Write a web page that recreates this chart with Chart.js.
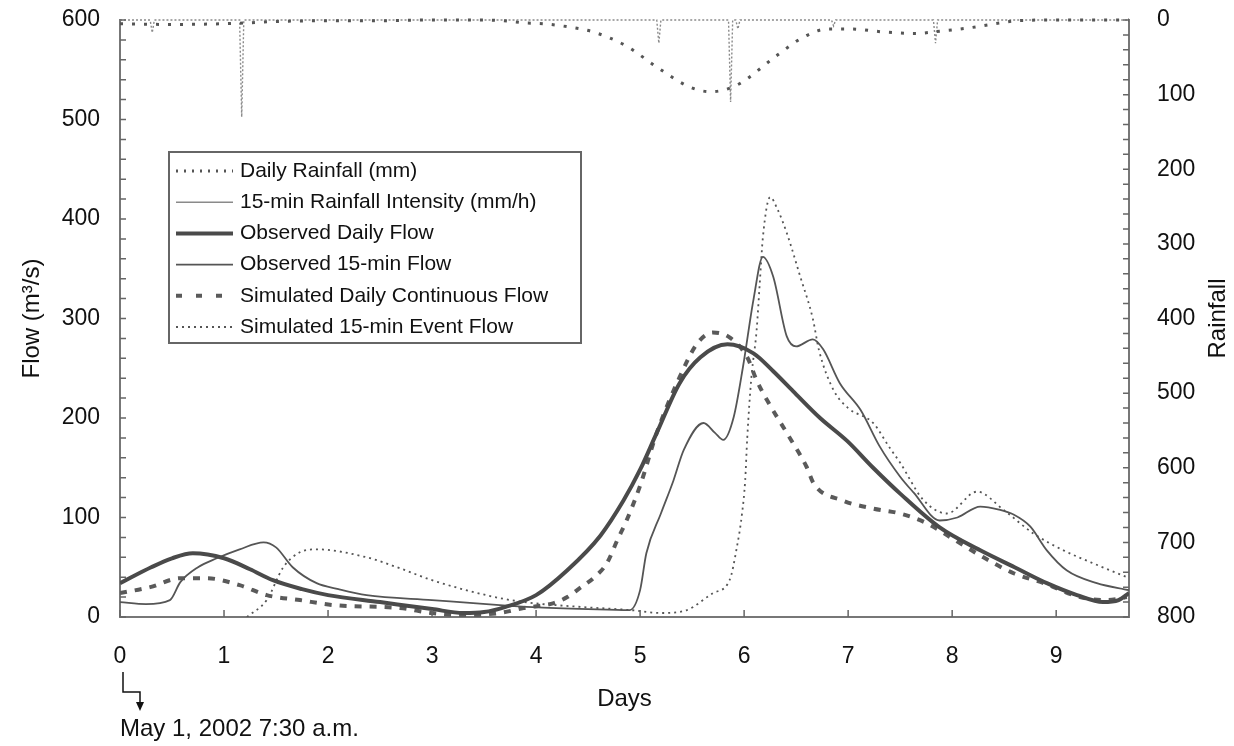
<!DOCTYPE html>
<html>
<head>
<meta charset="utf-8">
<script src="https://cdn.jsdelivr.net/npm/chart.js@4.4.0/dist/chart.umd.min.js"></script>
<style>
    body { margin: 0; background: #fff; }
    #wrap { width: 1234px; height: 746px; }
</style>
</head>
<body>
<div id="wrap"><canvas id="chart-flow" width="1234" height="746"></canvas></div>
<script>
// days counted from May 1, 2002 7:30 a.m.
var rainDailyDays = [0, 0.5, 1.0, 1.2, 1.5, 2.0, 2.5, 3.0, 3.5, 3.68, 3.9, 4.07, 4.3, 4.55, 4.87, 5.16, 5.48, 5.67, 5.8, 5.96, 6.32, 6.57, 6.8, 7.02, 7.34, 7.66, 7.82, 8.14, 8.46, 8.62, 9.0, 9.7];
var rainDailyMm = [5, 6, 5, 4, 2, 1, 1, 0, 0, 1, 4, 5, 9, 16, 35, 63, 90, 96, 94, 85, 47, 23, 12, 12, 16, 18, 16, 11, 4, 1, 0, 0];

var rain15Days = [0, 0.29, 0.31, 0.33, 1.15, 1.17, 1.19, 5.16, 5.18, 5.2, 5.85, 5.87, 5.89, 5.92, 5.94, 5.96, 6.84, 6.86, 6.88, 7.82, 7.84, 7.86, 9.7];
var rain15Int = [0, 0, 17, 0, 0, 130, 0, 0, 31, 0, 0, 110, 0, 0, 12, 0, 0, 8, 0, 0, 31, 0, 0];

var obsDailyDays = [0, 0.3, 0.5, 0.7, 1.0, 1.25, 1.47, 1.75, 2.0, 2.5, 3.0, 3.3, 3.5, 3.7, 4.0, 4.3, 4.62, 4.84, 5.0, 5.16, 5.38, 5.58, 5.84, 6.09, 6.28, 6.47, 6.73, 6.99, 7.24, 7.5, 7.88, 8.27, 8.6, 8.91, 9.2, 9.45, 9.6, 9.7];
var obsDailyFlow = [34, 50, 59, 64, 59, 48, 37, 28, 22, 15, 8, 4, 5, 10, 22, 47, 82, 117, 148, 185, 235, 261, 274, 265, 247, 227, 200, 177, 150, 124, 90, 67, 50, 34, 22, 15, 17, 24];

var obs15Days = [0, 0.25, 0.48, 0.58, 0.75, 0.93, 1.15, 1.38, 1.5, 1.66, 1.89, 2.1, 2.37, 3.0, 3.65, 3.97, 4.5, 4.9, 5.0, 5.06, 5.2, 5.32, 5.42, 5.61, 5.72, 5.8, 5.9, 5.99, 6.09, 6.18, 6.28, 6.41, 6.5, 6.66, 6.76, 6.92, 7.12, 7.3, 7.5, 7.63, 7.88, 8.05, 8.27, 8.45, 8.59, 8.75, 8.91, 9.1, 9.39, 9.7];
var obs15Flow = [15, 13, 17, 35, 50, 59, 68, 75, 70, 50, 34, 28, 22, 17, 12, 10, 8, 7, 27, 64, 104, 137, 168, 195, 185, 178, 201, 252, 319, 362, 342, 282, 272, 279, 269, 235, 208, 172, 141, 125, 97, 100, 111, 108, 103, 91, 67, 47, 34, 27];

var simDailyDays = [0, 0.29, 0.58, 0.83, 1.15, 1.41, 1.73, 2.05, 2.69, 3.0, 3.3, 3.65, 3.88, 4.17, 4.3, 4.42, 4.55, 4.68, 4.78, 4.87, 5.0, 5.16, 5.38, 5.55, 5.7, 5.86, 6.03, 6.12, 6.22, 6.41, 6.6, 6.67, 6.95, 7.24, 7.5, 7.76, 8.0, 8.3, 8.59, 8.88, 9.23, 9.49, 9.68];
var simDailyFlow = [24, 30, 39, 39, 32, 22, 17, 12, 9, 4, 2, 4, 9, 14, 20, 29, 39, 54, 77, 97, 132, 185, 241, 275, 286, 281, 261, 238, 218, 185, 151, 134, 117, 109, 104, 94, 79, 60, 44, 34, 20, 17, 20];

var sim15Days = [1.22, 1.41, 1.57, 1.73, 1.89, 2.37, 2.69, 3.0, 3.65, 3.97, 4.45, 4.9, 5.2, 5.45, 5.7, 5.86, 5.93, 5.98, 6.01, 6.03, 6.07, 6.12, 6.15, 6.18, 6.25, 6.32, 6.41, 6.54, 6.66, 6.72, 6.86, 7.0, 7.24, 7.4, 7.5, 7.72, 7.95, 8.24, 8.49, 8.78, 9.07, 9.4, 9.68];
var sim15Flow = [0, 17, 50, 65, 68, 60, 49, 37, 19, 14, 10, 7, 4, 7, 24, 37, 70, 104, 137, 180, 241, 288, 335, 381, 422, 410, 386, 342, 300, 268, 228, 210, 195, 170, 155, 118, 104, 126, 108, 84, 67, 52, 40];

var fontFamily = "'Liberation Sans', Arial, sans-serif";
var textColor = '#111';

function pts(xs, ys) {
    return xs.map(function (x, i) { return { x: x, y: ys[i] }; });
}

// tick padding would otherwise push the plot top down
function noVertPad(s) {
    s.paddingTop = 0;
}

// inward tick marks like the original plot
var innerTicks = {
    id: 'innerTicks',
    afterDatasetsDraw: function (chart) {
        var ctx = chart.ctx, a = chart.chartArea, s, v, p;
        ctx.save();
        ctx.strokeStyle = '#666';
        ctx.lineWidth = 1.5;
        ctx.beginPath();
        s = chart.scales.x;
        for (v = 0; v <= 9; v++) {
            p = s.getPixelForValue(v);
            ctx.moveTo(p, a.bottom); ctx.lineTo(p, a.bottom - 7);
        }
        s = chart.scales.y;
        for (v = 0; v <= 600; v += 20) {
            p = s.getPixelForValue(v);
            ctx.moveTo(a.left, p); ctx.lineTo(a.left + 6, p);
        }
        s = chart.scales.y2;
        for (v = 0; v <= 800; v += 20) {
            p = s.getPixelForValue(v);
            ctx.moveTo(a.right, p); ctx.lineTo(a.right - 6, p);
        }
        ctx.stroke();
        ctx.restore();
    }
};

var legendBox = {
    id: 'legendBox',
    afterDraw: function (chart) {
        var ctx = chart.ctx, a = chart.chartArea;
        var x0 = a.left + 49, y0 = a.top + 132, w = 412, h = 191;
        ctx.save();
        ctx.fillStyle = '#fff';
        ctx.fillRect(x0, y0, w, h);
        ctx.strokeStyle = '#666';
        ctx.lineWidth = 2;
        ctx.strokeRect(x0, y0, w, h);
        ctx.font = '21px ' + fontFamily;
        ctx.textBaseline = 'middle';
        ctx.fillStyle = textColor;
        chart.data.datasets.forEach(function (ds, i) {
            var y = y0 + 19 + i * 31.2;
            ctx.beginPath();
            ctx.setLineDash(ds.legendDash || ds.borderDash || []);
            ctx.lineWidth = ds.borderWidth;
            ctx.strokeStyle = ds.borderColor;
            ctx.lineCap = ds.borderCapStyle || 'butt';
            ctx.moveTo(x0 + 7, y);
            ctx.lineTo(x0 + 64, y);
            ctx.stroke();
            ctx.setLineDash([]);
            ctx.fillText(ds.label, x0 + 71, y);
        });
        ctx.restore();
    }
};

// right axis title (reads bottom to top) and the start date note
var extraText = {
    id: 'extraText',
    afterDraw: function (chart) {
        var ctx = chart.ctx, a = chart.chartArea;
        var x0 = chart.scales.x.getPixelForValue(0);
        ctx.save();
        ctx.fillStyle = textColor;
        ctx.font = '24px ' + fontFamily;
        ctx.textAlign = 'center';
        ctx.textBaseline = 'middle';
        ctx.translate(a.right + 89, (a.top + a.bottom) / 2);
        ctx.rotate(-Math.PI / 2);
        ctx.fillText('Rainfall', 0, 0);
        ctx.restore();

        ctx.save();
        ctx.strokeStyle = '#111';
        ctx.fillStyle = '#111';
        ctx.lineWidth = 1.5;
        ctx.beginPath();
        ctx.moveTo(x0 + 3, 672);
        ctx.lineTo(x0 + 3, 692);
        ctx.lineTo(x0 + 20, 692);
        ctx.lineTo(x0 + 20, 704);
        ctx.stroke();
        ctx.beginPath();
        ctx.moveTo(x0 + 16, 702);
        ctx.lineTo(x0 + 24, 702);
        ctx.lineTo(x0 + 20, 711);
        ctx.closePath();
        ctx.fill();
        ctx.font = '24px ' + fontFamily;
        ctx.textAlign = 'left';
        ctx.textBaseline = 'middle';
        ctx.fillText('May 1, 2002 7:30 a.m.', x0, 729);
        ctx.restore();
    }
};

var ctx1 = document.getElementById('chart-flow').getContext('2d');

new Chart(ctx1, {
    type: 'scatter',
    data: {
        datasets: [{
            label: 'Daily Rainfall (mm)',
            data: pts(rainDailyDays, rainDailyMm),
            yAxisID: 'y2',
            showLine: true,
            borderColor: '#555',
            borderWidth: 3,
            borderDash: [3, 9],
            legendDash: [2, 6],
            cubicInterpolationMode: 'monotone',
            pointRadius: 0,
            clip: 4
        }, {
            label: '15-min Rainfall Intensity (mm/h)',
            data: pts(rain15Days, rain15Int),
            yAxisID: 'y2',
            showLine: true,
            borderColor: '#8a8a8a',
            borderWidth: 1.4,
            borderDash: [2, 2],
            legendDash: [],
            tension: 0,
            pointRadius: 0,
            clip: 4
        }, {
            label: 'Observed Daily Flow',
            data: pts(obsDailyDays, obsDailyFlow),
            yAxisID: 'y',
            showLine: true,
            borderColor: '#4a4a4a',
            borderWidth: 4,
            cubicInterpolationMode: 'monotone',
            pointRadius: 0
        }, {
            label: 'Observed 15-min Flow',
            data: pts(obs15Days, obs15Flow),
            yAxisID: 'y',
            showLine: true,
            borderColor: '#555',
            borderWidth: 1.8,
            cubicInterpolationMode: 'monotone',
            pointRadius: 0
        }, {
            label: 'Simulated Daily Continuous Flow',
            data: pts(simDailyDays, simDailyFlow),
            yAxisID: 'y',
            showLine: true,
            borderColor: '#5a5a5a',
            borderWidth: 4,
            borderDash: [7, 8],
            legendDash: [6, 14],
            cubicInterpolationMode: 'monotone',
            pointRadius: 0
        }, {
            label: 'Simulated 15-min Event Flow',
            data: pts(sim15Days, sim15Flow),
            yAxisID: 'y',
            showLine: true,
            borderColor: '#555',
            borderWidth: 1.8,
            borderDash: [2, 4],
            cubicInterpolationMode: 'monotone',
            pointRadius: 0
        }]
    },
    options: {
        responsive: false,
        animation: false,
        devicePixelRatio: 1,
        layout: { padding: { top: 20, right: 0, bottom: 0, left: 0 } },
        plugins: {
            legend: { display: false },
            tooltip: { enabled: false }
        },
        scales: {
            x: {
                type: 'linear',
                position: 'bottom',
                min: 0,
                max: 9.7,
                afterFit: function (s) { s.height = 129; },
                grid: { display: false, drawTicks: false },
                border: { display: true, color: '#777', width: 2 },
                ticks: {
                    stepSize: 1,
                    includeBounds: false,
                    padding: 26,
                    color: textColor,
                    font: { size: 23, family: fontFamily }
                },
                title: {
                    display: true,
                    text: 'Days',
                    color: textColor,
                    padding: { top: 0, bottom: 32 },
                    font: { size: 24, family: fontFamily }
                }
            },
            y: {
                type: 'linear',
                position: 'left',
                min: 0,
                max: 600,
                afterFit: function (s) { s.width = 120; noVertPad(s); },
                grid: { display: false, drawTicks: false },
                border: { display: true, color: '#777', width: 2 },
                ticks: {
                    stepSize: 100,
                    padding: 20,
                    color: textColor,
                    font: { size: 23, family: fontFamily }
                },
                title: {
                    display: true,
                    text: 'Flow (m³/s)',
                    color: textColor,
                    padding: { top: 18, bottom: 0 },
                    font: { size: 24, family: fontFamily }
                }
            },
            y2: {
                type: 'linear',
                position: 'right',
                reverse: true,
                min: 0,
                max: 800,
                afterFit: function (s) { s.width = 105; noVertPad(s); },
                grid: { display: false, drawTicks: false },
                border: { display: true, color: '#777', width: 2 },
                ticks: {
                    stepSize: 100,
                    padding: 28,
                    color: textColor,
                    font: { size: 23, family: fontFamily }
                }
            }
        }
    },
    plugins: [innerTicks, legendBox, extraText]
});
</script>
</body>
</html>
